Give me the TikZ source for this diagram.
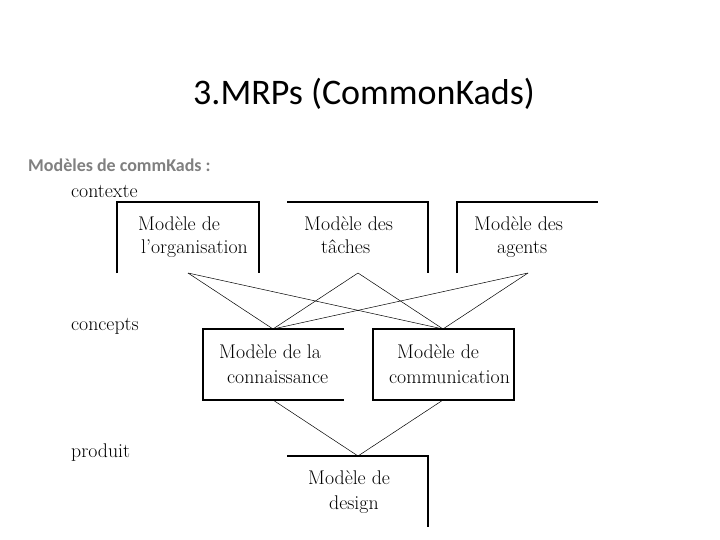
\documentclass[tikz,border=0pt]{standalone}
\usepackage{fontspec}
\newfontfamily\calibri{Carlito}
\begin{document}
\begin{tikzpicture}[x=1pt,y=-1pt,
  boxline/.style={line width=1.1pt},
  link/.style={line width=0.5pt},
  mtext/.style={anchor=base west,inner sep=0pt,font=\fontsize{19.8}{23}\selectfont},
]
\useasboundingbox[fill=white] (0,0) rectangle (720,540);
% title and subtitle
\node[anchor=base west,inner sep=0pt,font=\calibri\fontsize{36}{40}\selectfont] (title) at (193,105) {3.MRPs (CommonKads)};
\node[anchor=base west,inner sep=0pt,text=black!50,font=\calibri\bfseries\fontsize{18}{21}\selectfont] (sub) at (28,172) {Modèles de commKads :};
% level labels
\node[mtext] (ctx) at (71,197) {contexte};
\node[mtext] (cpt) at (71,330) {concepts};
\node[mtext] (prd) at (71,457) {produit};
% box outlines (partly drawn)
\draw[boxline] (117,273) -- (117,202) -- (259,202) -- (259,273);
\draw[boxline] (287,202) -- (428,202) -- (428,273);
\draw[boxline] (457,273) -- (457,202) -- (598,202);
\draw[boxline] (344,329) -- (203,329) -- (203,400) -- (344,400);
\draw[boxline] (373,329) rectangle (514,400);
\draw[boxline] (287,456) -- (428,456) -- (428,527);
% box texts
\node[mtext] (b1a) at (138,230) {Modèle de};
\node[mtext] (b1b) at (141,254) {l'organisation};
\node[mtext] (b2a) at (304,230) {Modèle des};
\node[mtext] (b2b) at (321,254) {tâches};
\node[mtext] (b3a) at (474,230) {Modèle des};
\node[mtext] (b3b) at (497,254) {agents};
\node[mtext] (b4a) at (219,358) {Modèle de la};
\node[mtext] (b4b) at (227,383) {connaissance};
\node[mtext] (b5a) at (397,358) {Modèle de};
\node[mtext] (b5b) at (389,383) {communication};
\node[mtext] (b6a) at (308,484) {Modèle de};
\node[mtext] (b6b) at (329,509) {design};
% connector points
\coordinate (p1) at (188,273);
\coordinate (p2) at (358,273);
\coordinate (p3) at (528,273);
\coordinate (q1) at (273,329);
\coordinate (q2) at (443,329);
\coordinate (r1) at (273,400);
\coordinate (r2) at (443,400);
\coordinate (s) at (358,456);
\foreach \a in {p1,p2,p3}{\foreach \b in {q1,q2}{\draw[link] (\a) -- (\b);}}
\draw[link] (r1) -- (s);
\draw[link] (r2) -- (s);
\end{tikzpicture}
\end{document}
